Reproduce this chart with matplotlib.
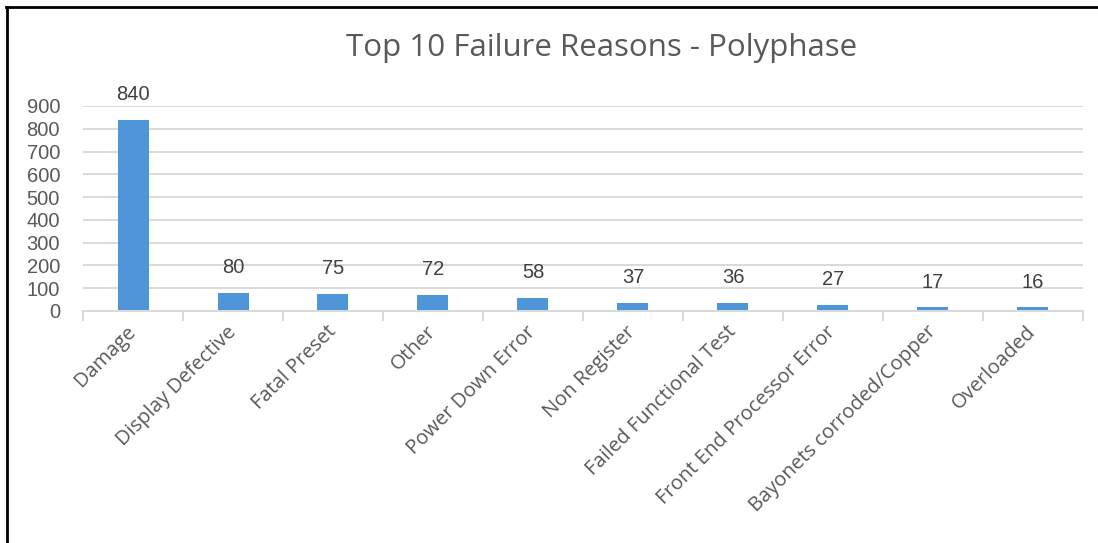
import matplotlib
matplotlib.use("Agg")
import matplotlib.pyplot as plt
import numpy as np
from matplotlib.lines import Line2D

categories = ["Damage", "Display Defective", "Fatal Preset", "Other", "Power Down Error",
              "Non Register", "Failed Functional Test", "Front End Processor Error",
              "Bayonets corroded/Copper", "Overloaded"]
values = [840, 80, 75, 72, 58, 37, 36, 27, 17, 16]
yticks = [0, 100, 200, 300, 400, 500, 600, 700, 800, 900]
title = "Top 10 Failure Reasons - Polyphase"

plt.rcParams['font.family'] = ['Open Sans', 'DejaVu Sans']
num_font = ['Liberation Sans', 'DejaVu Sans']
txt = "#595959"
grid = "#D9D9D9"

fig = plt.figure(figsize=(10.98, 5.43), dpi=100)
ax = fig.add_axes([0.0756, 0.4273, 0.9107, 0.3775])

x = np.arange(len(categories))
ax.bar(x, values, width=0.31, color="#4F96D9", zorder=3)
for xi, v in zip(x, values):
    ax.annotate(str(v), (xi, v), xytext=(0, 18), textcoords="offset points",
                ha="center", va="center", fontsize=14.5, color="#404040", family=num_font)

ax.set_xlim(-0.5, len(categories) - 0.5)
ax.set_ylim(0, 900)
ax.set_yticks(yticks)
ax.set_yticklabels([str(t) for t in yticks], fontsize=14.5, color=txt, family=num_font)
ax.tick_params(axis="y", length=0, pad=16.5)
ax.yaxis.grid(True, color=grid, linewidth=1.4, zorder=0)

ax.set_xticks(np.arange(-0.5, len(categories), 1.0))
ax.set_xticklabels([])
ax.tick_params(axis="x", which="major", length=7, color=grid, width=1.4)
ax.set_xticks(x, minor=True)
ax.set_xticklabels(categories, minor=True, rotation=45, ha="right", va="center",
                   rotation_mode="anchor", fontsize=14.5, color=txt)
ax.tick_params(axis="x", which="minor", length=0, pad=13)

for s in ["top", "right", "left"]:
    ax.spines[s].set_visible(False)
ax.spines["bottom"].set_color(grid)
ax.spines["bottom"].set_linewidth(1.4)
ax.spines["bottom"].set_zorder(4)

fig.text(0.5475, 0.911, title, ha="center", va="center", fontsize=22.5, color=txt)

# outer border (left and top)
fig.add_artist(Line2D([0.0065, 0.0065], [0, 0.988], transform=fig.transFigure, color="black", linewidth=2))
fig.add_artist(Line2D([0.0055, 1.0], [0.988, 0.988], transform=fig.transFigure, color="black", linewidth=2))

fig.savefig("out.png", dpi=100)
